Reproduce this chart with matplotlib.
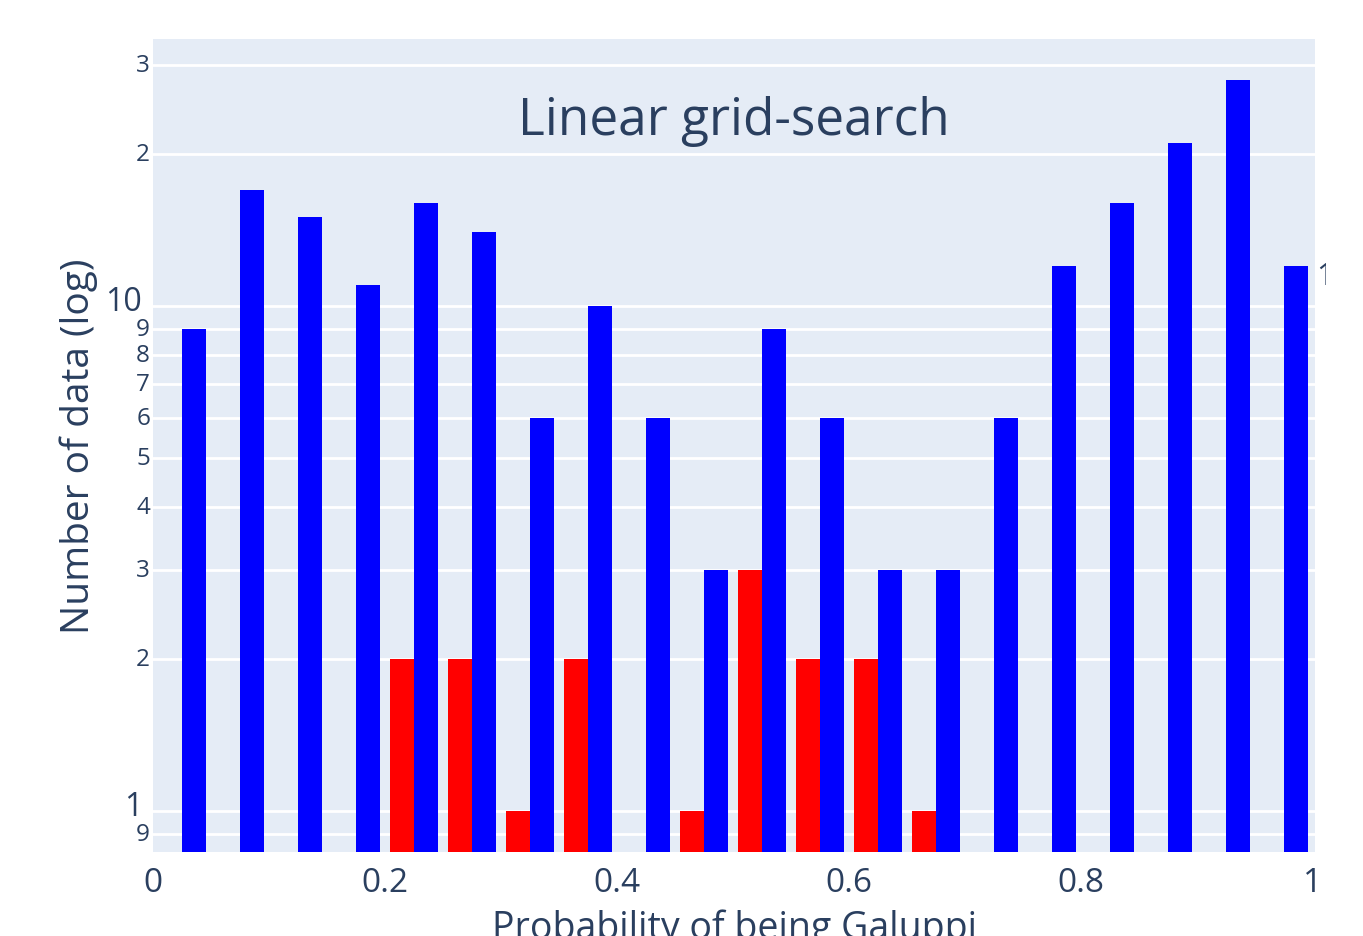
import numpy as np
import matplotlib
matplotlib.use("Agg")
import matplotlib.pyplot as plt
import matplotlib.transforms as mtrans
from matplotlib.ticker import FixedLocator, FixedFormatter, NullLocator
from matplotlib.transforms import Bbox

# data
bin_edges = [round(0.05 * i, 2) for i in range(21)]
blue_counts = [9, 17, 15, 11, 16, 14, 6, 10, 6, 3, 9, 6, 3, 3, 6, 12, 16, 21, 28, 12]
red_counts = [0, 0, 0, 0, 2, 2, 1, 2, 0, 1, 3, 2, 2, 1, 0, 0, 0, 0, 0, 0]
ytick_vals = [0.9, 1, 2, 3, 4, 5, 6, 7, 8, 9, 10, 20, 30]
ytick_text = ["9", "1", "2", "3", "4", "5", "6", "7", "8", "9", "10", "2", "3"]
xtick_vals = [0, 0.2, 0.4, 0.6, 0.8, 1]
xtick_text = ["0", "0.2", "0.4", "0.6", "0.8", "1"]

plt.rcParams['font.family'] = ['Open Sans', 'DejaVu Sans']
txt = '#2a3f5f'

fig = plt.figure(figsize=(13.63, 9.37), dpi=100)
ax = fig.add_axes([153/1363, 84/937, 1162/1363, 813/937])
ax.set_facecolor('#E5ECF6')

lo = np.array(bin_edges[:-1])
centers = lo + 0.025
bw = 0.0207
base = 0.5
red = np.array(red_counts, dtype=float)
blue = np.array(blue_counts, dtype=float)
mask = red > 0
ax.bar(centers[mask] - bw / 2, red[mask] - base, width=bw, bottom=base, color='#ff0000', zorder=3)
ax.bar(centers + bw / 2, blue - base, width=bw, bottom=base, color='#0000ff', zorder=3)

ax.set_yscale('log')
ax.set_ylim(10 ** -0.081, 10 ** 1.529)
ax.set_xlim(0, 1.0017)

ax.yaxis.set_major_locator(FixedLocator(ytick_vals))
ax.yaxis.set_minor_locator(NullLocator())
ax.set_yticklabels([])
ax.xaxis.set_major_locator(FixedLocator(xtick_vals))
ax.xaxis.set_major_formatter(FixedFormatter(xtick_text))
ax.grid(True, axis='y', color='white', linewidth=2, zorder=0)
ax.set_axisbelow(True)
for s in ax.spines.values():
    s.set_visible(False)
ax.tick_params(axis='both', length=0, colors=txt)
ax.tick_params(axis='x', labelsize=24, pad=10)

# y tick labels drawn by hand: big labels for decades, small ones in between
ytr = ax.get_yaxis_transform()
for v, s in zip(ytick_vals, ytick_text):
    if v in (1, 10):
        off = mtrans.ScaledTranslation(-11/100, 5/100, fig.dpi_scale_trans)
        ax.text(0, v, s, transform=ytr + off, ha='right', va='center', fontsize=23, color=txt)
    else:
        off = mtrans.ScaledTranslation(-3/100, 0, fig.dpi_scale_trans)
        ax.text(0, v, s, transform=ytr + off, ha='right', va='center', fontsize=17.5, color=txt)

ax.set_xlabel("Probability of being Galuppi", fontsize=27, color=txt, labelpad=7)
ax.set_ylabel("Number of data (log)", fontsize=28, color=txt, labelpad=36)
ax.text(0.5, 0.9, "Linear grid-search", transform=ax.transAxes, ha='center',
        va='center', fontsize=37, color=txt)

# clipped label at the right edge
t = fig.text(1316/1363, 1 - 277/937, "1", fontsize=22, color=txt, va='center', ha='left')
t.set_clip_box(Bbox.from_extents(0, 0, 1326, 937))
t.set_clip_on(True)

fig.savefig("out.png", dpi=100)
